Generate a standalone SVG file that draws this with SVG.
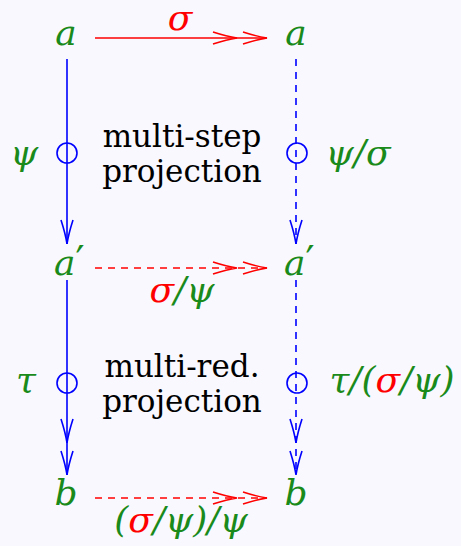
<svg xmlns="http://www.w3.org/2000/svg" width="461" height="546" viewBox="0 0 461 546">
<style>
.m{font-family:'DejaVu Serif',serif;font-style:italic;font-size:36px;fill:#1a8a1a}
.r{fill:#ff0000}
.p{font-family:'DejaVu Sans',sans-serif;font-style:normal;font-size:40px}
.t{font-family:'DejaVu Serif',serif;font-size:31px;fill:#000000}
.bl{stroke:#0000ff;stroke-width:1.6;fill:none}
.rd{stroke:#ff0000;stroke-width:1.6;fill:none}
.dash{stroke-dasharray:7 6}
</style>
<defs>
<marker id="hr2" markerUnits="userSpaceOnUse" orient="auto" viewBox="-60 -8 62 16" refX="0" refY="0" markerWidth="62" markerHeight="16">
<path d="M-24,-6 Q-10,-1.5 0,0 Q-10,1.5 -24,6 M-54,-6 Q-40,-1.5 -30,0 Q-40,1.5 -54,6" fill="none" stroke="#ff0000" stroke-width="1.6"/>
</marker>
<marker id="hb1" markerUnits="userSpaceOnUse" orient="auto" viewBox="-30 -8 32 16" refX="0" refY="0" markerWidth="32" markerHeight="16">
<path d="M-24,-6 Q-10,-1.5 0,0 Q-10,1.5 -24,6" fill="none" stroke="#0000ff" stroke-width="1.6"/>
</marker>
<marker id="hb2" markerUnits="userSpaceOnUse" orient="auto" viewBox="-60 -8 62 16" refX="0" refY="0" markerWidth="62" markerHeight="16">
<path d="M-24,-6 Q-10,-1.5 0,0 Q-10,1.5 -24,6 M-56,-6 Q-42,-1.5 -32,0 Q-42,1.5 -56,6" fill="none" stroke="#0000ff" stroke-width="1.6"/>
</marker>
</defs>
<rect width="461" height="546" fill="#f8f8fe"/>
<g id="connectors">
<path class="rd" d="M95,38 H267" marker-end="url(#hr2)"/>
<path class="rd dash" d="M95,268 H267" marker-end="url(#hr2)"/>
<path class="rd dash" d="M95,498 H267" marker-end="url(#hr2)"/>
<path class="bl" d="M67,59 V244" marker-end="url(#hb1)"/>
<path class="bl dash" d="M296,59 V244" marker-end="url(#hb1)"/>
<path class="bl" d="M67,280 V475" marker-end="url(#hb2)"/>
<path class="bl dash" d="M296,280 V475" marker-end="url(#hb2)"/>
<circle class="bl" cx="67" cy="153" r="10"/>
<circle class="bl" cx="297" cy="153" r="10"/>
<circle class="bl" cx="67" cy="383" r="10"/>
<circle class="bl" cx="297" cy="383" r="10"/>
</g>
<g id="a-left"><text class="m" x="66" y="45" text-anchor="middle">a</text></g>
<g id="a-right"><text class="m" x="296" y="45" text-anchor="middle">a</text></g>
<g id="a1-left"><text class="m" x="54" y="275">a<tspan class="p">′</tspan></text></g>
<g id="a1-right"><text class="m" x="284" y="275">a<tspan class="p">′</tspan></text></g>
<g id="b-left"><text class="m" x="66" y="505" text-anchor="middle">b</text></g>
<g id="b-right"><text class="m" x="296" y="505" text-anchor="middle">b</text></g>
<g id="labels">
<text class="m r" x="180" y="30" text-anchor="middle">σ</text>
<text class="m" x="24" y="165" text-anchor="middle">ψ</text>
<text class="m" x="358" y="165" text-anchor="middle">ψ/σ</text>
<text class="m" x="182" y="302" text-anchor="middle"><tspan class="r">σ</tspan>/ψ</text>
<text class="m" x="26" y="392" text-anchor="middle">τ</text>
<text class="m" x="392" y="392" text-anchor="middle">τ/(<tspan class="r">σ</tspan>/ψ)</text>
<text class="m" x="181" y="532" text-anchor="middle">(<tspan class="r">σ</tspan>/ψ)/ψ</text>
<text class="t" x="182" y="147" text-anchor="middle">multi-step</text>
<text class="t" x="182" y="182" text-anchor="middle">projection</text>
<text class="t" x="182" y="377" text-anchor="middle">multi-red.</text>
<text class="t" x="182" y="412" text-anchor="middle">projection</text>
</g>
</svg>
